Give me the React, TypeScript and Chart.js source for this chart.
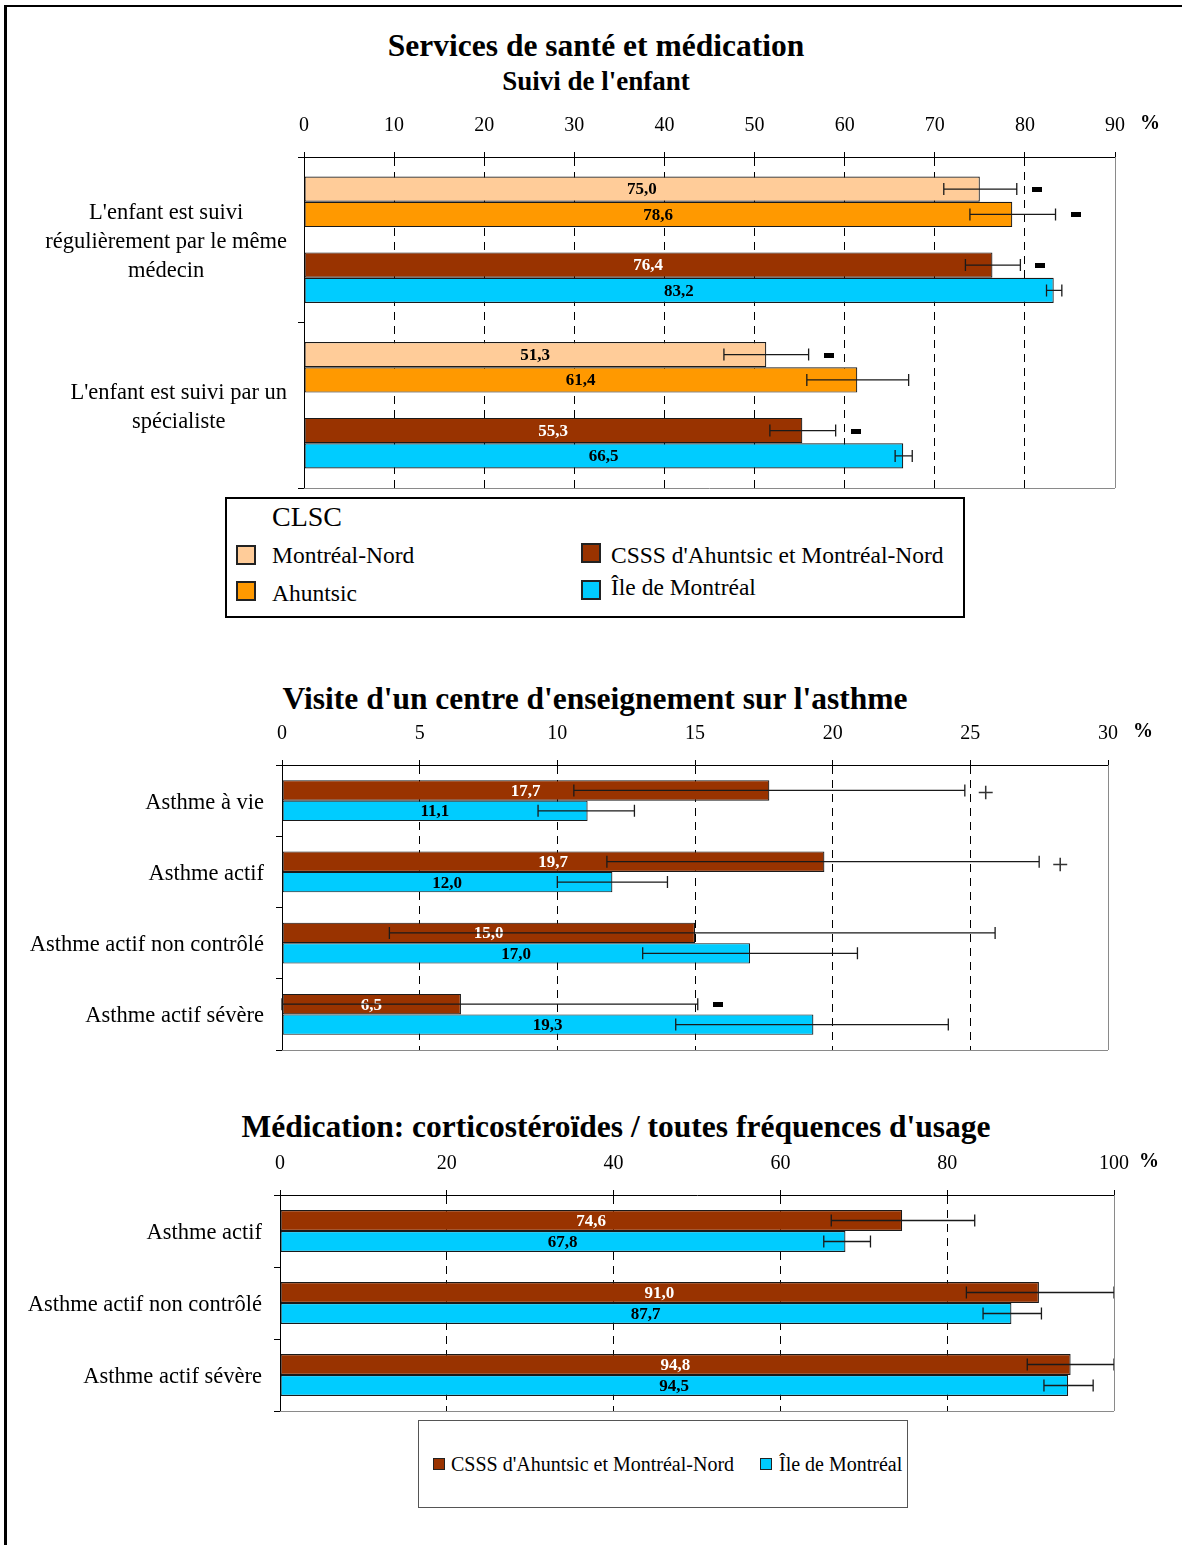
import React, { useEffect, useRef } from 'react';
import { Chart, registerables } from 'chart.js';

Chart.register(...registerables);

const SERIF = '"Liberation Serif", "Times New Roman", Times, serif';

const COLOR_MN = '#FFCC99';
const COLOR_AH = '#FF9900';
const COLOR_CSSS = '#993300';
const COLOR_ILE = '#00CCFF';

// ---------- Panel 1 : Suivi de l'enfant ----------
const suiviCategories = [
  ["L'enfant est suivi", 'régulièrement par le même', 'médecin'],
  ["L'enfant est suivi par un", 'spécialiste'],
];
const suiviMN = [75.0, 51.3];
const suiviMNLow = [71.0, 46.6];
const suiviMNHigh = [79.1, 56.0];
const suiviMNSig = ['-', '-'];
const suiviAH = [78.6, 61.4];
const suiviAHLow = [73.9, 55.8];
const suiviAHHigh = [83.4, 67.1];
const suiviAHSig = ['-', ''];
const suiviCSSS = [76.4, 55.3];
const suiviCSSSLow = [73.4, 51.7];
const suiviCSSSHigh = [79.5, 59.0];
const suiviCSSSSig = ['-', '-'];
const suiviILE = [83.2, 66.5];
const suiviILELow = [82.4, 65.6];
const suiviILEHigh = [84.1, 67.5];
const suiviTicksMax = 90;
const suiviTicksStep = 10;

// ---------- Panel 2 : Visite d'un centre d'enseignement ----------
const visiteCategories = ['Asthme à vie', 'Asthme actif', 'Asthme actif non contrôlé', 'Asthme actif sévère'];
const visiteCSSS = [17.7, 19.7, 15.0, 6.5];
const visiteCSSSLow = [10.6, 11.8, 3.9, 0.0];
const visiteCSSSHigh = [24.8, 27.5, 25.9, 15.1];
const visiteCSSSSig = ['+', '+', '', '-'];
const visiteILE = [11.1, 12.0, 17.0, 19.3];
const visiteILELow = [9.3, 10.0, 13.1, 14.3];
const visiteILEHigh = [12.8, 14.0, 20.9, 24.2];
const visiteTicksMax = 30;
const visiteTicksStep = 5;

// ---------- Panel 3 : Médication ----------
const medicCategories = ['Asthme actif', 'Asthme actif non contrôlé', 'Asthme actif sévère'];
const medicCSSS = [74.6, 91.0, 94.8];
const medicCSSSLow = [66.1, 82.3, 89.6];
const medicCSSSHigh = [83.3, 100.0, 100.0];
const medicILE = [67.8, 87.7, 94.5];
const medicILELow = [65.2, 84.3, 91.6];
const medicILEHigh = [70.8, 91.3, 97.5];
const medicTicksMax = 100;
const medicTicksStep = 20;

type SeriesDef = {
  label: string;
  values: (number | null)[];
  low?: number[];
  high?: number[];
  sig?: string[];
  color: string;
  textColor: string;
};

type PanelDef = {
  canvasTop: number;
  canvasHeight: number;
  plotLeft: number;
  plotRight: number;
  plotTop: number;
  plotBottom: number;
  max: number;
  step: number;
  categories: (string | string[])[];
  series: SeriesDef[];
  categoryPercentage: number;
  centeredLabels: boolean;
};

const panel1: PanelDef = {
  canvasTop: 100,
  canvasHeight: 395,
  plotLeft: 304,
  plotRight: 1115,
  plotTop: 157,
  plotBottom: 488,
  max: suiviTicksMax,
  step: suiviTicksStep,
  categories: suiviCategories,
  categoryPercentage: 0.765,
  centeredLabels: true,
  series: [
    { label: 'Montréal-Nord', values: suiviMN, low: suiviMNLow, high: suiviMNHigh, sig: suiviMNSig, color: COLOR_MN, textColor: '#000' },
    { label: 'Ahuntsic', values: suiviAH, low: suiviAHLow, high: suiviAHHigh, sig: suiviAHSig, color: COLOR_AH, textColor: '#000' },
    { label: '', values: [null, null], color: 'rgba(0,0,0,0)', textColor: '#000' },
    { label: "CSSS d'Ahuntsic et Montréal-Nord", values: suiviCSSS, low: suiviCSSSLow, high: suiviCSSSHigh, sig: suiviCSSSSig, color: COLOR_CSSS, textColor: '#fff' },
    { label: 'Île de Montréal', values: suiviILE, low: suiviILELow, high: suiviILEHigh, color: COLOR_ILE, textColor: '#000' },
  ],
};

const panel2: PanelDef = {
  canvasTop: 705,
  canvasHeight: 355,
  plotLeft: 282,
  plotRight: 1108,
  plotTop: 765,
  plotBottom: 1050,
  max: visiteTicksMax,
  step: visiteTicksStep,
  categories: visiteCategories,
  categoryPercentage: 0.575,
  centeredLabels: false,
  series: [
    { label: "CSSS d'Ahuntsic et Montréal-Nord", values: visiteCSSS, low: visiteCSSSLow, high: visiteCSSSHigh, sig: visiteCSSSSig, color: COLOR_CSSS, textColor: '#fff' },
    { label: 'Île de Montréal', values: visiteILE, low: visiteILELow, high: visiteILEHigh, color: COLOR_ILE, textColor: '#000' },
  ],
};

const panel3: PanelDef = {
  canvasTop: 1135,
  canvasHeight: 290,
  plotLeft: 280,
  plotRight: 1114,
  plotTop: 1195,
  plotBottom: 1411,
  max: medicTicksMax,
  step: medicTicksStep,
  categories: medicCategories,
  categoryPercentage: 0.583,
  centeredLabels: false,
  series: [
    { label: "CSSS d'Ahuntsic et Montréal-Nord", values: medicCSSS, low: medicCSSSLow, high: medicCSSSHigh, color: COLOR_CSSS, textColor: '#fff' },
    { label: 'Île de Montréal', values: medicILE, low: medicILELow, high: medicILEHigh, color: COLOR_ILE, textColor: '#000' },
  ],
};

const fmt = (v: number) => v.toFixed(1).replace('.', ',');

function buildChart(canvas: HTMLCanvasElement, p: PanelDef) {
  const overlay = {
    id: 'overlay',
    afterDatasetsDraw(chart: any) {
      const ctx: CanvasRenderingContext2D = chart.ctx;
      const xs = chart.scales.x;
      const x0 = xs.getPixelForValue(0);
      p.series.forEach((s, di) => {
        if (!s.low || !s.high) return;
        const meta = chart.getDatasetMeta(di);
        meta.data.forEach((bar: any, i: number) => {
          const v = s.values[i];
          if (v == null) return;
          const y = bar.y;
          ctx.save();
          ctx.font = `bold 17px ${SERIF}`;
          ctx.fillStyle = s.textColor;
          ctx.textAlign = 'center';
          ctx.textBaseline = 'middle';
          ctx.fillText(fmt(v), (x0 + bar.x) / 2, y + 1);
          const xl = xs.getPixelForValue(s.low![i]);
          const xh = xs.getPixelForValue(s.high![i]);
          ctx.strokeStyle = '#1a1a1a';
          ctx.lineWidth = 1.3;
          const cap = 6;
          ctx.beginPath();
          ctx.moveTo(xl, y);
          ctx.lineTo(xh, y);
          ctx.moveTo(xl, y - cap);
          ctx.lineTo(xl, y + cap);
          ctx.moveTo(xh, y - cap);
          ctx.lineTo(xh, y + cap);
          ctx.stroke();
          const mark = s.sig ? s.sig[i] : '';
          if (mark === '-') {
            ctx.fillStyle = '#000';
            ctx.fillRect(Math.round(xh + 20 - 5), Math.round(y - 2), 10, 5);
          } else if (mark === '+') {
            ctx.fillStyle = '#333';
            ctx.font = `30px ${SERIF}`;
            ctx.fillText('+', xh + 21, y + 4);
          }
          ctx.restore();
        });
      });
    },
    afterDraw(chart: any) {
      const ctx: CanvasRenderingContext2D = chart.ctx;
      const a = chart.chartArea;
      ctx.save();
      ctx.strokeStyle = '#8a8a8a';
      ctx.lineWidth = 1;
      ctx.beginPath();
      ctx.moveTo(Math.round(a.right) + 0.5, a.top);
      ctx.lineTo(Math.round(a.right) + 0.5, a.bottom);
      ctx.moveTo(a.left, Math.round(a.bottom) + 0.5);
      ctx.lineTo(a.right, Math.round(a.bottom) + 0.5);
      ctx.stroke();
      ctx.fillStyle = '#000';
      ctx.font = `bold 20px ${SERIF}`;
      ctx.textAlign = 'center';
      ctx.textBaseline = 'middle';
      ctx.fillText('%', a.right + 35, a.top - 33);

      const ys = chart.scales.y;
      ctx.font = `22.5px ${SERIF}`;
      p.categories.forEach((cat, i) => {
        const lines = Array.isArray(cat) ? cat : [cat];
        const cy = ys.getPixelForValue(i) + 2;
        if (p.centeredLabels) {
          ctx.textAlign = 'center';
          const w = Math.max(...lines.map((l) => ctx.measureText(l).width));
          const cx = a.left - 17 - w / 2;
          const lh = 29;
          lines.forEach((l, k) => {
            ctx.fillText(l, cx, cy + (k - (lines.length - 1) / 2) * lh);
          });
        } else {
          ctx.textAlign = 'right';
          ctx.fillText(lines[0], a.left - 18, cy);
        }
      });
      ctx.restore();
    },
  };

  return new Chart(canvas, {
    type: 'bar',
    data: {
      labels: p.categories as any,
      datasets: p.series.map((s) => ({
        label: s.label,
        data: s.values,
        backgroundColor: s.color,
        borderColor: s.low ? '#1a1a1a' : 'rgba(0,0,0,0)',
        borderWidth: 1.2,
        borderSkipped: false,
        barPercentage: 1,
        categoryPercentage: p.categoryPercentage,
      })),
    },
    options: {
      indexAxis: 'y',
      responsive: false,
      maintainAspectRatio: false,
      animation: false,
      devicePixelRatio: 1,
      layout: {
        padding: {
          left: 0,
          top: 0,
          right: 1182 - p.plotRight,
          bottom: p.canvasHeight - (p.plotBottom - p.canvasTop),
        },
      },
      plugins: {
        legend: { display: false },
        tooltip: { enabled: false },
        title: { display: false },
      },
      scales: {
        x: {
          type: 'linear',
          position: 'top',
          min: 0,
          max: p.max,
          ticks: {
            stepSize: p.step,
            color: '#000',
            padding: 14,
            font: { family: SERIF, size: 20 },
          },
          grid: {
            color: '#000',
            lineWidth: 1,
            tickLength: 5,
            tickColor: '#000',
            drawTicks: true,
          },
          border: { display: true, color: '#000', width: 1, dash: [8, 6] },
          afterFit: (s: any) => {
            s.height = p.plotTop - p.canvasTop;
          },
        },
        y: {
          type: 'category',
          offset: true,
          grid: {
            offset: true,
            drawOnChartArea: false,
            tickLength: 6,
            color: '#000',
            tickColor: '#000',
          },
          border: { display: true, color: '#000', width: 1 },
          ticks: {
            display: false,
          },
          afterFit: (s: any) => {
            s.width = p.plotLeft;
          },
        },
      },
    } as any,
    plugins: [overlay],
  });
}

function Panel({ def }: { def: PanelDef }) {
  const ref = useRef<HTMLCanvasElement>(null);
  useEffect(() => {
    const c = buildChart(ref.current!, def);
    return () => c.destroy();
  }, [def]);
  return (
    <canvas
      ref={ref}
      width={1182}
      height={def.canvasHeight}
      style={{ position: 'absolute', left: 0, top: def.canvasTop, width: 1182, height: def.canvasHeight }}
    />
  );
}

function Txt({
  x,
  y,
  size,
  bold,
  center,
  children,
}: {
  x: number;
  y: number;
  size: number;
  bold?: boolean;
  center?: boolean;
  children: React.ReactNode;
}) {
  return (
    <div
      style={{
        position: 'absolute',
        left: center ? x - 600 : x,
        width: center ? 1200 : undefined,
        top: y - size / 2,
        fontSize: size,
        lineHeight: `${size}px`,
        fontWeight: bold ? 'bold' : 'normal',
        textAlign: center ? 'center' : 'left',
        whiteSpace: 'nowrap',
        color: '#000',
        fontFamily: SERIF,
      }}
    >
      {children}
    </div>
  );
}

function Swatch({ x, y, size, color, border }: { x: number; y: number; size: number; color: string; border: number }) {
  return (
    <div
      style={{
        position: 'absolute',
        left: x,
        top: y,
        width: size,
        height: size,
        background: color,
        border: `${border}px solid #222`,
        boxSizing: 'border-box',
      }}
    />
  );
}

export default function App() {
  return (
    <div
      style={{
        position: 'absolute',
        left: 0,
        top: 0,
        width: 1182,
        height: 1545,
        background: '#fff',
        overflow: 'hidden',
        fontFamily: SERIF,
      }}
    >
      <div
        style={{
          position: 'absolute',
          left: 4,
          top: 5,
          width: 1300,
          height: 1700,
          borderTop: '2px solid #000',
          borderLeft: '3px solid #000',
        }}
      />

      <Txt x={596} y={46} size={31.5} bold center>
        Services de santé et médication
      </Txt>
      <Txt x={596} y={81} size={27} bold center>
        Suivi de l'enfant
      </Txt>
      <Panel def={panel1} />

      <div
        style={{
          position: 'absolute',
          left: 225,
          top: 497,
          width: 740,
          height: 121,
          border: '2px solid #000',
          boxSizing: 'border-box',
          background: '#fff',
        }}
      />
      <Txt x={272} y={517} size={28}>
        CLSC
      </Txt>
      <Swatch x={236} y={545} size={20} color={COLOR_MN} border={2} />
      <Txt x={272} y={556} size={23.5}>
        Montréal-Nord
      </Txt>
      <Swatch x={236} y={581} size={20} color={COLOR_AH} border={2} />
      <Txt x={272} y={594} size={23.5}>
        Ahuntsic
      </Txt>
      <Swatch x={581} y={543} size={20} color={COLOR_CSSS} border={2} />
      <Txt x={611} y={556} size={23.5}>
        CSSS d'Ahuntsic et Montréal-Nord
      </Txt>
      <Swatch x={581} y={580} size={20} color={COLOR_ILE} border={2} />
      <Txt x={611} y={588} size={23.5}>
        Île de Montréal
      </Txt>

      <Txt x={595} y={699} size={31.5} bold center>
        Visite d'un centre d'enseignement sur l'asthme
      </Txt>
      <Panel def={panel2} />

      <Txt x={616} y={1127} size={31.5} bold center>
        Médication: corticostéroïdes / toutes fréquences d'usage
      </Txt>
      <Panel def={panel3} />

      <div
        style={{
          position: 'absolute',
          left: 418,
          top: 1420,
          width: 490,
          height: 88,
          border: '1px solid #555',
          boxSizing: 'border-box',
          background: '#fff',
        }}
      />
      <Swatch x={433} y={1458} size={12} color={COLOR_CSSS} border={1} />
      <Txt x={451} y={1464} size={20}>
        CSSS d'Ahuntsic et Montréal-Nord
      </Txt>
      <Swatch x={760} y={1458} size={12} color={COLOR_ILE} border={1} />
      <Txt x={779} y={1464} size={20}>
        Île de Montréal
      </Txt>
    </div>
  );
}
